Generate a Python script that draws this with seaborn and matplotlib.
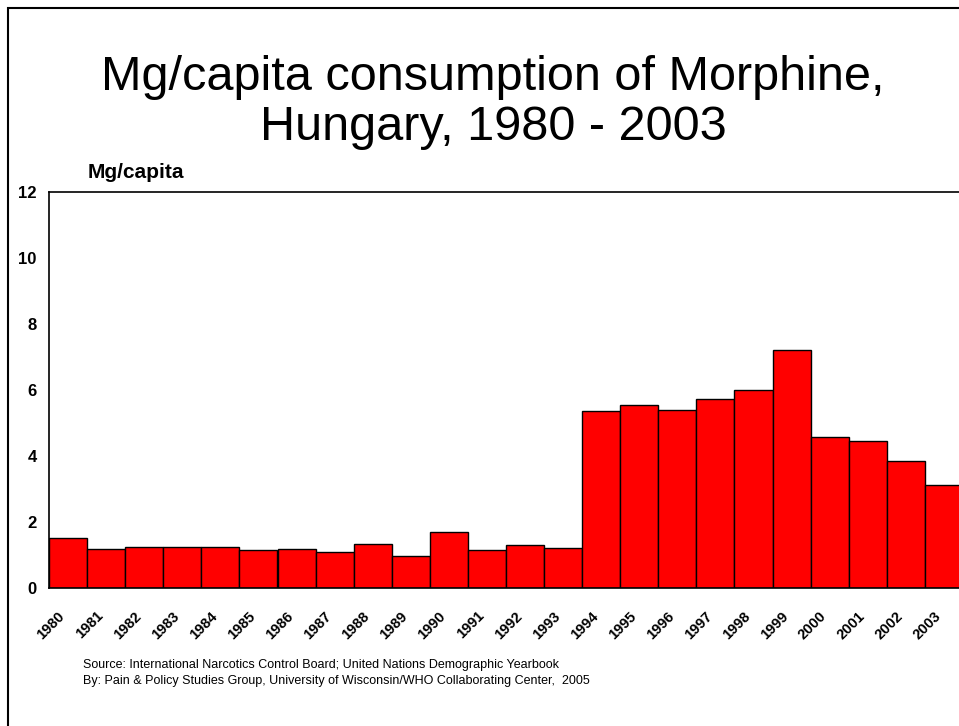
import matplotlib
matplotlib.use('Agg')
import matplotlib.pyplot as plt
import matplotlib.patches as mpatches
import seaborn as sns
import pandas as pd

years = [str(y) for y in range(1980, 2004)]
mg_per_capita = [1.52, 1.18, 1.25, 1.25, 1.25, 1.15, 1.17, 1.10, 1.32, 0.97,
                 1.69, 1.15, 1.29, 1.20, 5.37, 5.54, 5.39, 5.72, 6.00, 7.21,
                 4.58, 4.44, 3.84, 3.13]
y_ticks = [0, 2, 4, 6, 8, 10, 12]

df = pd.DataFrame({'year': years, 'mg': mg_per_capita})

sns.set_style('white')
plt.rcParams['font.family'] = ['Liberation Sans', 'DejaVu Sans']
plt.rcParams['text.color'] = 'black'
plt.rcParams['xtick.color'] = 'black'
plt.rcParams['ytick.color'] = 'black'

W, H = 959, 726
fig = plt.figure(figsize=(W / 100, H / 100), dpi=100)


def fy(px):
    # pixel row from top -> figure fraction
    return 1 - px / H


# slide frame (right and bottom edges fall outside the picture)
fig.patches.append(mpatches.Rectangle((8 / W, -0.1), 1.2, fy(8) + 0.1,
                                      transform=fig.transFigure, fill=False,
                                      edgecolor='black', linewidth=1.5))

fig.text(493 / W, fy(78), 'Mg/capita consumption of Morphine,', ha='center', va='center',
         fontsize=35)
fig.text(493 / W, fy(128), 'Hungary, 1980 - 2003', ha='center', va='center',
         fontsize=35)

# axes extend a bit past the right edge, like the original slide
ax = fig.add_axes([49 / W, fy(588), 914 / W, 396 / H])
sns.barplot(data=df, x='year', y='mg', color='#ff0000', edgecolor='black',
            linewidth=1, width=1.0, saturation=1, ax=ax)

ax.set_ylim(0, 12)
ax.set_xlim(-0.5, len(years) - 0.5)
ax.set_yticks(y_ticks)
ax.set_yticklabels([str(t) for t in y_ticks], fontweight='bold', fontsize=12)
ax.set_xlabel('')
ax.set_ylabel('')

# year labels sit slightly left of bar centres; tick marks at bar boundaries
ax.set_xticks([i - 0.27 for i in range(len(years))])
ax.set_xticklabels(years, rotation=45, ha='right', rotation_mode='anchor',
                   fontweight='bold', fontsize=10.5)
ax.tick_params(axis='x', which='major', length=0, pad=15)
ax.set_xticks([i - 0.5 for i in range(len(years) + 1)], minor=True)
ax.tick_params(axis='x', which='minor', length=5, direction='out', color='black', width=1)
ax.tick_params(axis='y', length=6, direction='out', color='black', width=1, pad=3)

for side in ['left', 'bottom', 'top']:
    ax.spines[side].set_color('black')
    ax.spines[side].set_linewidth(1.2)
ax.spines['right'].set_visible(False)

fig.text(88 / W, fy(173), 'Mg/capita', fontweight='bold', fontsize=15, va='center')

fig.text(83 / W, fy(665), 'Source: International Narcotics Control Board; United Nations Demographic Yearbook',
         fontsize=9, va='center')
fig.text(83 / W, fy(681), 'By: Pain & Policy Studies Group, University of Wisconsin/WHO Collaborating Center,  2005',
         fontsize=9, va='center')

fig.savefig('out.png', dpi=100)
plt.close(fig)
